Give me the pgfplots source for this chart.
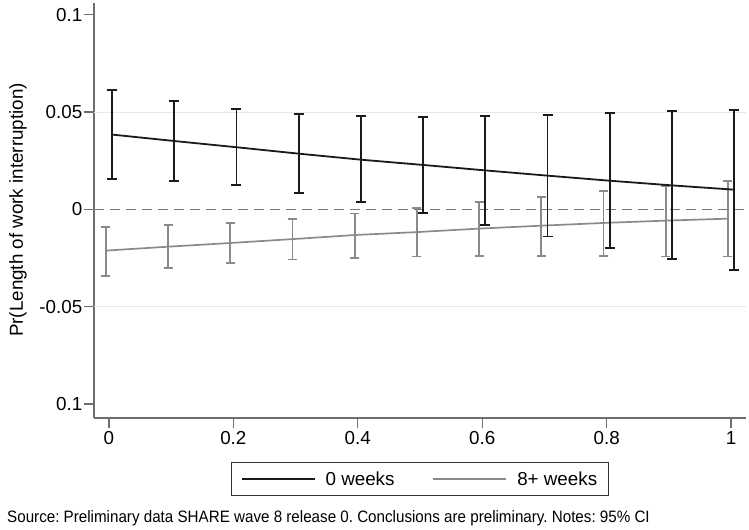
\documentclass[border=0pt]{standalone}
\usepackage{pgfplots}
\pgfplotsset{compat=1.18}
\usepackage{pgfplotstable}
\usepackage{fontspec}
\setmainfont{Liberation Sans}
\newfontfamily\srcfont[FakeStretch=0.92]{Liberation Sans}
\frenchspacing
\definecolor{blk}{HTML}{1A1A1A}
\definecolor{gry}{HTML}{8A8A8A}
\definecolor{axgray}{HTML}{6E6E6E}
\definecolor{gridc}{HTML}{E8E8E8}
\newcommand{\fs}{\fontsize{18.8bp}{22bp}\selectfont}
\pgfplotstableread{
x y hi lo
0.0 0.0384 0.0613 0.0156
0.1 0.0351 0.0557 0.0147
0.2 0.0319 0.0514 0.0123
0.3 0.0286 0.0490 0.0084
0.4 0.0255 0.0478 0.0036
0.5 0.0228 0.0476 -0.0019
0.6 0.0200 0.0480 -0.0079
0.7 0.0173 0.0485 -0.0140
0.8 0.0147 0.0495 -0.0200
0.9 0.0123 0.0504 -0.0257
1.0 0.0101 0.0510 -0.0312
}\zeroweeks
\pgfplotstableread{
x y hi lo
0.0 -0.0212 -0.0089 -0.0341
0.1 -0.0192 -0.0081 -0.0303
0.2 -0.0173 -0.0069 -0.0276
0.3 -0.0153 -0.0048 -0.0257
0.4 -0.0132 -0.0022 -0.0249
0.5 -0.0117 0.0007 -0.0242
0.6 -0.0099 0.0036 -0.0240
0.7 -0.0084 0.0065 -0.0240
0.8 -0.0070 0.0093 -0.0240
0.9 -0.0058 0.0120 -0.0242
1.0 -0.0048 0.0144 -0.0242
}\eightweeks
\begin{document}
\begin{tikzpicture}
\useasboundingbox (-94bp,-112bp) rectangle (655bp,418bp);
\begin{axis}[
  scale only axis,
  width=652bp, height=415bp,
  xmin=-0.024, xmax=1.024,
  ymin=-0.1072, ymax=0.106,
  axis lines*=left,
  axis line style={axgray, line width=1.4bp},
  every tick/.style={axgray, line width=1.2bp},
  tick align=outside,
  major tick length=10bp,
  xtick={0,0.2,0.4,0.6,0.8,1},
  xticklabels={0,0.2,0.4,0.6,0.8,1},
  ytick={-0.1,-0.05,0,0.05,0.1},
  yticklabels={0.1,-0.05,0,0.05,0.1},
  tick label style={font=\fs, black},
  yticklabel style={inner xsep=1.5bp},
  xticklabel style={inner ysep=3bp},
  clip=false,
  legend style={at={(rel axis cs:0.5,0)}, anchor=north, yshift=-44bp,
    legend columns=2, draw=black!80, line width=0.9bp, font=\fs,
    inner xsep=9bp, inner ysep=7bp,
    /tikz/every odd column/.append style={column sep=8bp},
    /tikz/every even column/.append style={column sep=36bp}},
  legend image code/.code={\draw[#1] (0bp,0bp) -- (73bp,0bp);},
]
\addplot[gridc, line width=1bp, forget plot] coordinates {(-0.024,0.05) (1.024,0.05)};
\addplot[gridc, line width=1bp, forget plot] coordinates {(-0.024,-0.05) (1.024,-0.05)};
\addplot[gry!115, dashed, dash pattern=on 10bp off 6bp, line width=1.4bp, forget plot] coordinates {(-0.024,0) (1.024,0)};
\addplot[gry, line width=1.7bp, no markers, forget plot,
  error bars/.cd, y dir=both, y explicit,
  error bar style={gry, line width=1.7bp},
  error mark options={rotate=90, mark size=4.5bp, gry, line width=1.7bp}]
  table[x expr=\thisrow{x}-0.005, y=y,
    y error plus expr=\thisrow{hi}-\thisrow{y},
    y error minus expr=\thisrow{y}-\thisrow{lo}] {\eightweeks};
\addplot[blk, line width=1.8bp, no markers, forget plot,
  error bars/.cd, y dir=both, y explicit,
  error bar style={blk, line width=1.8bp},
  error mark options={rotate=90, mark size=5bp, blk, line width=1.8bp}]
  table[x expr=\thisrow{x}+0.005, y=y,
    y error plus expr=\thisrow{hi}-\thisrow{y},
    y error minus expr=\thisrow{y}-\thisrow{lo}] {\zeroweeks};
\addlegendimage{blk, line width=1.8bp}
\addlegendentry{0 weeks}
\addlegendimage{gry, line width=1.7bp}
\addlegendentry{8+ weeks}
\end{axis}
\node[rotate=90, font=\fs, anchor=center] at (-76bp,208bp) {Pr(Length of work interruption)};
\node[anchor=base west, font=\srcfont\fontsize{16.5bp}{19bp}\selectfont, inner sep=0pt] at (-87bp,-104bp)
  {Source: Preliminary data SHARE wave 8 release 0. Conclusions are preliminary. Notes: 95\% CI};
\end{tikzpicture}
\end{document}
